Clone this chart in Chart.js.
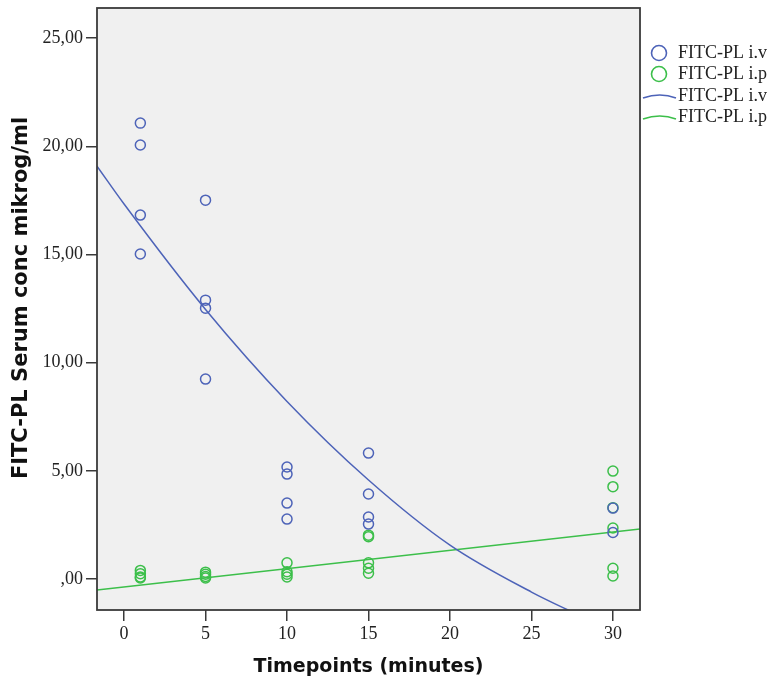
<!DOCTYPE html>
<html>
<head>
<meta charset="utf-8">
<script src="https://cdn.jsdelivr.net/npm/chart.js@4"></script>
<style>
html,body{margin:0;padding:0;background:#fff;}
#wrap{width:774px;height:682px;position:relative;}
</style>
</head>
<body>
<div id="wrap"><canvas id="c" width="774" height="682"></canvas></div>
<script>
// ---- data ----
const xTickValues = [0, 5, 10, 15, 20, 25, 30];
const yTickValues = [0, 5, 10, 15, 20, 25];

const ivTime = [1, 1, 1, 1, 5, 5, 5, 5, 10, 10, 10, 10, 15, 15, 15, 15, 30, 30];
const ivConc = [21.07, 20.06, 16.82, 15.02, 17.51, 12.89, 12.52, 9.24, 5.18, 4.85, 3.51, 2.77, 5.82, 3.93, 2.87, 2.54, 3.28, 2.15];

const ipTime = [1, 1, 1, 1, 5, 5, 5, 5, 10, 10, 10, 10, 15, 15, 15, 15, 15, 30, 30, 30, 30, 30, 30];
const ipConc = [0.40, 0.25, 0.10, 0.05, 0.32, 0.22, 0.12, 0.05, 0.75, 0.34, 0.22, 0.10, 2.03, 1.96, 0.75, 0.50, 0.27, 4.99, 4.27, 3.30, 2.36, 0.50, 0.14];

// fit curves, points
const ivFitTime = [-1.66, 0, 5, 10, 15, 20, 25, 28];
const ivFitConc = [19.08, 17.33, 12.46, 8.21, 4.58, 1.57, -0.6, -1.7];
const ipFitTime = [-1.66, 31.66];
const ipFitConc = [-0.51, 2.31];

const seriesLabels = ['FITC-PL i.v', 'FITC-PL i.p'];
const xTitle = 'Timepoints (minutes)';
const yTitle = 'FITC-PL Serum conc mikrog/ml';

// ---- styles ----
const BLUE = '#4d63b8';
const GREEN = '#3cbf4a';
const AXIS = '#3a3a3a';
const TICKFONT = {family: '"Liberation Serif", "DejaVu Serif", serif', size: 18};
const XTITLEFONT = {family: '"DejaVu Sans", sans-serif', size: 19, weight: 'bold'};

const toXY = (xs, ys) => xs.map((x, i) => ({x: x, y: ys[i]}));

const plotBg = {
  id: 'plotBg',
  beforeDraw(chart) {
    const {ctx, chartArea: a} = chart;
    ctx.save();
    ctx.fillStyle = '#f0f0f0';
    ctx.fillRect(a.left, a.top, a.right - a.left, a.bottom - a.top);
    ctx.restore();
  },
  afterDatasetsDraw(chart) {
    const {ctx, chartArea: a} = chart;
    ctx.save();
    ctx.strokeStyle = AXIS;
    ctx.lineWidth = 1.8;
    ctx.strokeRect(a.left, a.top, a.right - a.left, a.bottom - a.top);
    ctx.restore();
  }
};

const legendPlugin = {
  id: 'customLegend',
  afterDraw(chart) {
    const {ctx} = chart;
    ctx.save();
    // y axis title
    ctx.save();
    ctx.translate(22, 298);
    ctx.rotate(-Math.PI / 2);
    ctx.font = 'bold 21px "DejaVu Sans", sans-serif';
    ctx.fillStyle = '#111';
    ctx.textAlign = 'center';
    ctx.textBaseline = 'middle';
    ctx.fillText(yTitle, 0, 0);
    ctx.restore();

    ctx.font = '18px "Liberation Serif", serif';
    ctx.fillStyle = '#222';
    ctx.textBaseline = 'middle';
    ctx.textAlign = 'left';
    const tx = 678;
    const rows = [53, 74, 96, 117];
    [[BLUE, rows[0], seriesLabels[0]], [GREEN, rows[1], seriesLabels[1]]].forEach(([col, y, lab]) => {
      ctx.beginPath();
      ctx.strokeStyle = col;
      ctx.lineWidth = 1.6;
      ctx.arc(659, y, 7.5, 0, Math.PI * 2);
      ctx.stroke();
      ctx.fillText(lab, tx, y);
    });
    [[BLUE, rows[2], seriesLabels[0]], [GREEN, rows[3], seriesLabels[1]]].forEach(([col, y, lab]) => {
      ctx.beginPath();
      ctx.strokeStyle = col;
      ctx.lineWidth = 1.6;
      ctx.moveTo(643, y + 2);
      ctx.quadraticCurveTo(660, y - 4, 676, y + 2);
      ctx.stroke();
      ctx.fillText(lab, tx, y);
    });
    ctx.restore();
  }
};

const fmt = v => {
  const s = v.toFixed(2).replace('.', ',');
  return s.startsWith('0,') ? s.slice(1) : s;
};

new Chart(document.getElementById('c'), {
  type: 'scatter',
  data: {
    datasets: [
      {label: seriesLabels[0], data: toXY(ivTime, ivConc), showLine: false,
       pointStyle: 'circle', pointRadius: 5, pointBorderWidth: 1.5,
       borderColor: BLUE, backgroundColor: 'rgba(0,0,0,0)', pointBackgroundColor: 'rgba(0,0,0,0)'},
      {label: seriesLabels[1], data: toXY(ipTime, ipConc), showLine: false,
       pointStyle: 'circle', pointRadius: 5, pointBorderWidth: 1.5,
       borderColor: GREEN, backgroundColor: 'rgba(0,0,0,0)', pointBackgroundColor: 'rgba(0,0,0,0)'},
      {label: seriesLabels[0] + ' fit', data: toXY(ivFitTime, ivFitConc), showLine: true,
       pointRadius: 0, borderColor: BLUE, borderWidth: 1.5, cubicInterpolationMode: 'monotone', fill: false},
      {label: seriesLabels[1] + ' fit', data: toXY(ipFitTime, ipFitConc), showLine: true,
       pointRadius: 0, borderColor: GREEN, borderWidth: 1.5, fill: false}
    ]
  },
  options: {
    responsive: false,
    animation: false,
    events: [],
    layout: {padding: {top: 8, right: 134, left: 0, bottom: 0}},
    plugins: {legend: {display: false}, tooltip: {enabled: false}},
    scales: {
      x: {
        type: 'linear', min: -1.66, max: 31.66,
        afterBuildTicks: s => { s.ticks = xTickValues.map(v => ({value: v})); },
        afterFit: s => { s.height = 72; s.paddingLeft = 0; s.paddingRight = 0; },
        grid: {drawOnChartArea: false, drawTicks: true, tickLength: 11, color: AXIS, lineWidth: 1.5},
        border: {display: false},
        ticks: {font: TICKFONT, color: '#222', padding: 2, maxRotation: 0},
        title: {display: true, text: xTitle, font: XTITLEFONT, color: '#111', padding: {top: 6}}
      },
      y: {
        type: 'linear', min: -1.43, max: 26.39,
        afterBuildTicks: s => { s.ticks = yTickValues.map(v => ({value: v})); },
        afterFit: s => { s.width = 97; s.paddingTop = 0; s.paddingBottom = 0; },
        grid: {drawOnChartArea: false, drawTicks: true, tickLength: 11, color: AXIS, lineWidth: 1.5},
        border: {display: false},
        ticks: {font: TICKFONT, color: '#222', padding: 3, callback: v => fmt(v)},
        title: {display: false, text: yTitle}
      }
    }
  },
  plugins: [plotBg, legendPlugin]
});
</script>
</body>
</html>
